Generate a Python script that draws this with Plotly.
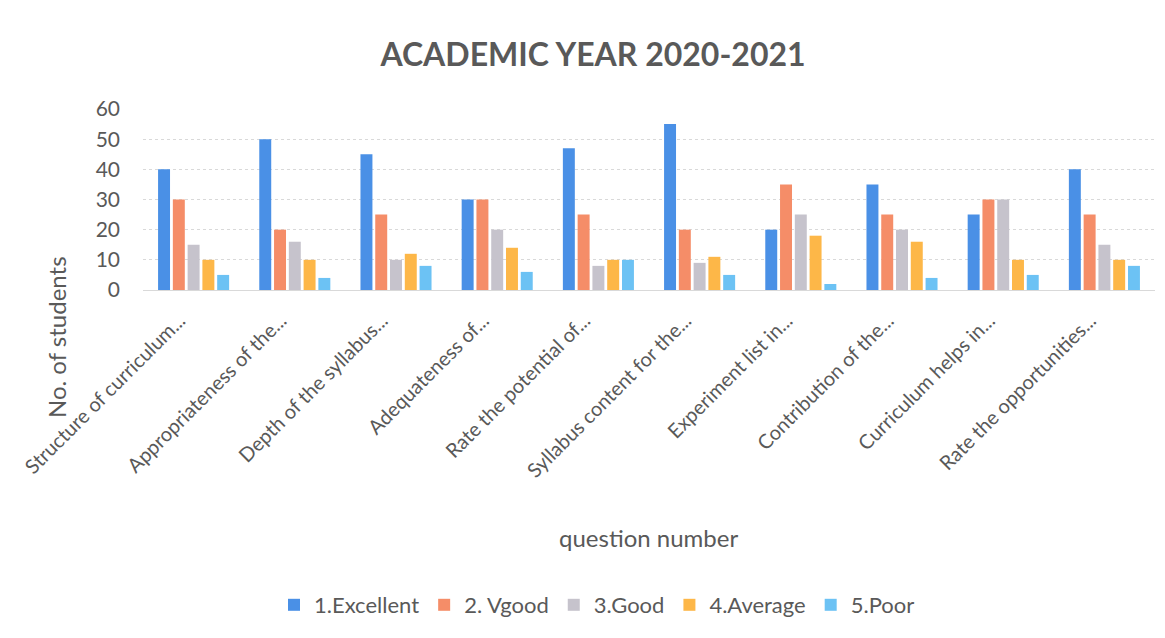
import plotly.graph_objects as go

categories = [
    "Structure of curriculum...",
    "Appropriateness of the...",
    "Depth of the syllabus...",
    "Adequateness of...",
    "Rate the potential of...",
    "Syllabus content for the...",
    "Experiment list in...",
    "Contribution of the...",
    "Curriculum helps in...",
    "Rate the opportunities...",
]
series_names = ["1.Excellent", "2. Vgood", "3.Good", "4.Average", "5.Poor"]
excellent = [40, 50, 45, 30, 47, 55, 20, 35, 25, 40]
vgood = [30, 20, 25, 30, 25, 20, 35, 25, 30, 25]
good = [15, 16, 10, 20, 8, 9, 25, 20, 30, 15]
average = [10, 10, 12, 14, 10, 11, 18, 16, 10, 10]
poor = [5, 4, 8, 6, 10, 5, 2, 4, 5, 8]
y_ticks = [0, 10, 20, 30, 40, 50, 60]

colors = ["#4A90E6", "#F58D68", "#C6C3CC", "#FDB748", "#6CC2F4"]
values = [excellent, vgood, good, average, poor]

FONT = "Lato"
GREY = "#595959"

fig = go.Figure()
for name, vals, col in zip(series_names, values, colors):
    fig.add_trace(go.Bar(name=name, x=categories, y=vals, marker_color=col,
                         marker_line_width=0))

OFF = 8  # page body margin
W, H = 1165 - 2 * OFF, 638 - 2 * OFF
# target page-pixel geometry
plot_left, plot_right, plot_top, plot_bottom = 143, 1155, 109, 290
ml = plot_left - OFF
mr = W - (plot_right - OFF)
mt = plot_top - OFF
mb = H - (plot_bottom - OFF)
pw = W - ml - mr
ph = H - mt - mb

def px_x(x):
    return (x - plot_left) / pw

def px_y(y):
    return (plot_bottom - y) / ph

fig.update_layout(
    width=W, height=H,
    margin=dict(l=ml, r=mr, t=mt, b=mb, autoexpand=False),
    paper_bgcolor="white", plot_bgcolor="white",
    barmode="group", bargap=0.27, bargroupgap=0.19,
    font=dict(family=FONT, color=GREY),
    title=dict(text="<b>ACADEMIC YEAR 2020-2021</b>", x=(593 - OFF) / W, xanchor="center",
               xref="container", y=1 - (55 - OFF) / H, yref="container", yanchor="middle",
               font=dict(size=32, family=FONT, color=GREY)),
    showlegend=True,
    legend=dict(orientation="h", x=px_x(597), xanchor="center", y=px_y(605),
                yanchor="middle", font=dict(size=22, family=FONT, color=GREY),
                traceorder="normal", itemwidth=30, bgcolor="rgba(0,0,0,0)"),
    xaxis=dict(tickangle=-45, tickfont=dict(size=20, family=FONT, color=GREY),
               showgrid=False, showline=True, linecolor="#D9D9D9", linewidth=1,
               ticks="", automargin=False, ticklabelstandoff=10, ticklabelshift=-14),
    yaxis=dict(range=[0, 60], tickvals=y_ticks, tickfont=dict(size=21, family=FONT, color=GREY),
               showgrid=True, gridcolor="#D9D9D9", griddash="dot", gridwidth=1,
               zeroline=False, showline=False, ticks="", ticklabelstandoff=22,
               automargin=False),
    annotations=[
        dict(text="No. of students", textangle=-90, xref="paper", yref="paper",
             x=px_x(56), y=px_y(337), xanchor="center", yanchor="middle",
             showarrow=False, font=dict(size=24, family=FONT, color=GREY)),
        dict(text="question number", xref="paper", yref="paper",
             x=px_x(648), y=px_y(537), xanchor="center", yanchor="middle",
             showarrow=False, font=dict(size=24, family=FONT, color=GREY)),
    ],
)

fig.write_html("out.html")
